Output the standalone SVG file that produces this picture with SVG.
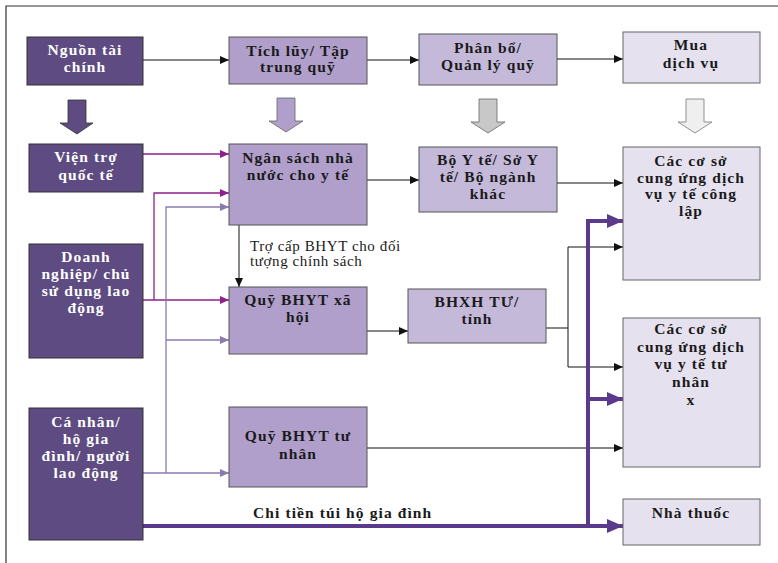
<svg xmlns="http://www.w3.org/2000/svg" width="778" height="563" viewBox="0 0 778 563">
<style>
.dk{fill:#5D4B82;stroke:#333;stroke-width:1}
.md{fill:#B09FCA;stroke:#555;stroke-width:1}
.lt{fill:#C5B9DA;stroke:#555;stroke-width:1}
.xl{fill:#E5E1EF;stroke:#666;stroke-width:1}
text{font-family:"Liberation Serif","Times New Roman",serif;font-weight:bold;font-size:15.5px;letter-spacing:1.1px;text-anchor:middle}
.w{fill:#ffffff}
.b{fill:#1a1a1a}
.n{font-weight:normal;font-size:15px;letter-spacing:0.6px;text-anchor:start}
.k{fill:none;stroke:#111;stroke-width:1}
.m{fill:none;stroke:#8E1F8C;stroke-width:1.3}
.p{fill:none;stroke:#8A7BAF;stroke-width:1.3}
.t{fill:none;stroke:#5B3A8C;stroke-width:4}
</style>
<defs>
<marker id="ak" markerUnits="userSpaceOnUse" markerWidth="10" markerHeight="10" refX="9" refY="5" orient="auto"><path d="M0,1 L9,5 L0,9 Z" fill="#111"/></marker>
<marker id="am" markerUnits="userSpaceOnUse" markerWidth="10" markerHeight="10" refX="9" refY="5" orient="auto"><path d="M0,1 L9,5 L0,9 Z" fill="#8E1F8C"/></marker>
<marker id="ap" markerUnits="userSpaceOnUse" markerWidth="10" markerHeight="10" refX="9" refY="5" orient="auto"><path d="M0,1 L9,5 L0,9 Z" fill="#8A7BAF"/></marker>
<marker id="at" markerUnits="userSpaceOnUse" markerWidth="17" markerHeight="16" refX="16" refY="8" orient="auto"><path d="M0,1 L16,8 L0,15 Z" fill="#5B3A8C"/></marker>
</defs>
<rect width="778" height="563" fill="#ffffff"/>
<path d="M6,563 V6 H778" fill="none" stroke="#333" stroke-width="1.2"/>

<g id="block-arrows">
<path d="M68,100 H86 V123 H93 L77,134 L60,123 H68 Z" fill="#5D4B82" stroke="#333" stroke-width="0.8"/>
<path d="M277,98 H295 V121 H303 L286,132 L269,121 H277 Z" fill="#B09FCA" stroke="#666" stroke-width="0.8"/>
<path d="M479,99 H497 V122 H505 L488,133 L471,122 H479 Z" fill="#C8C8C8" stroke="#666" stroke-width="0.8"/>
<path d="M686,99 H704 V122 H712 L695,133 L678,122 H686 Z" fill="#EFEFEF" stroke="#777" stroke-width="0.8"/>
</g>

<g id="connectors">
<path class="k" d="M143,60 H229" marker-end="url(#ak)"/>
<path class="k" d="M367,60 H419" marker-end="url(#ak)"/>
<path class="k" d="M557,59 H623" marker-end="url(#ak)"/>
<path class="m" d="M143,154 H229" marker-end="url(#am)"/>
<path class="m" d="M143,300 H229" marker-end="url(#am)"/>
<path class="m" d="M154,300 V193 H229" marker-end="url(#am)"/>
<path class="p" d="M143,473 H229" marker-end="url(#ap)"/>
<path class="p" d="M166,473 V207 H229" marker-end="url(#ap)"/>
<path class="p" d="M166,340 H229" marker-end="url(#ap)"/>
<path class="k" d="M367,180 H419" marker-end="url(#ak)"/>
<path class="k" d="M557,183 H623" marker-end="url(#ak)"/>
<path class="k" d="M239,225 V287" marker-end="url(#ak)"/>
<path class="k" d="M367,331 H408" marker-end="url(#ak)"/>
<path class="k" d="M546,328 H568"/>
<path class="k" d="M568,247 V367"/>
<path class="k" d="M568,247 H623" marker-end="url(#ak)"/>
<path class="k" d="M568,367 H623" marker-end="url(#ak)"/>
<path class="k" d="M367,448 H623" marker-end="url(#ak)"/>
<path class="t" d="M143,526 H623" marker-end="url(#at)"/>
<path class="t" d="M588,526 V221 H623" marker-end="url(#at)"/>
<path class="t" d="M588,399 H623" marker-end="url(#at)"/>
<text class="n b" x="250" y="251">Trợ cấp BHYT cho đối</text>
<text class="n b" x="250" y="266">tượng chính sách</text>
<text class="b" x="253" y="518" style="text-anchor:start">Chi tiền túi hộ gia đình</text>
</g>

<g id="nguon"><rect class="dk" x="27" y="37" width="116" height="48"/><text class="w" x="85" y="55">Nguồn tài</text><text class="w" x="85" y="72">chính</text></g>
<g id="tichluy"><rect class="md" x="229" y="37" width="138" height="47"/><text class="b" x="298" y="56">Tích lũy/ Tập</text><text class="b" x="298" y="72">trung quỹ</text></g>
<g id="phanbo"><rect class="lt" x="419" y="34" width="138" height="51"/><text class="b" x="488" y="53">Phân bổ/</text><text class="b" x="488" y="70">Quản lý quỹ</text></g>
<g id="mua"><rect class="xl" x="623" y="32" width="137" height="51"/><text class="b" x="691" y="50">Mua</text><text class="b" x="691" y="68">dịch vụ</text></g>

<g id="vientro"><rect class="dk" x="29" y="144" width="114" height="48"/><text class="w" x="86" y="162">Viện trợ</text><text class="w" x="86" y="180">quốc tế</text></g>
<g id="ngansach"><rect class="md" x="229" y="144" width="138" height="81"/><text class="b" x="298" y="163">Ngân sách nhà</text><text class="b" x="298" y="180">nước cho y tế</text></g>
<g id="boyte"><rect class="lt" x="419" y="147" width="138" height="65"/><text class="b" x="488" y="165">Bộ Y tế/ Sở Y</text><text class="b" x="488" y="182">tế/ Bộ ngành</text><text class="b" x="488" y="199">khác</text></g>
<g id="conglap"><rect class="xl" x="623" y="147" width="137" height="133"/><text class="b" x="691" y="166">Các cơ sở</text><text class="b" x="691" y="183">cung ứng dịch</text><text class="b" x="691" y="199">vụ y tế công</text><text class="b" x="691" y="216">lập</text></g>

<g id="doanhnghiep"><rect class="dk" x="29" y="244" width="114" height="114"/><text class="w" x="86" y="262">Doanh</text><text class="w" x="86" y="279">nghiệp/ chủ</text><text class="w" x="86" y="296">sử dụng lao</text><text class="w" x="86" y="313">động</text></g>
<g id="quyxahoi"><rect class="md" x="229" y="287" width="138" height="67"/><text class="b" x="298" y="305">Quỹ BHYT xã</text><text class="b" x="298" y="322">hội</text></g>
<g id="bhxh"><rect class="lt" x="408" y="289" width="138" height="54"/><text class="b" x="477" y="307">BHXH TƯ/</text><text class="b" x="477" y="324">tỉnh</text></g>
<g id="tunhan"><rect class="xl" x="623" y="318" width="137" height="149"/><text class="b" x="691" y="334">Các cơ sở</text><text class="b" x="691" y="352">cung ứng dịch</text><text class="b" x="691" y="369">vụ y tế tư</text><text class="b" x="691" y="387">nhân</text><text class="b" x="691" y="405">x</text></g>

<g id="canhan"><rect class="dk" x="29" y="408" width="114" height="132"/><text class="w" x="86" y="427">Cá nhân/</text><text class="w" x="86" y="444">hộ gia</text><text class="w" x="86" y="461">đình/ người</text><text class="w" x="86" y="478">lao động</text></g>
<g id="quytunhan"><rect class="md" x="229" y="407" width="138" height="80"/><text class="b" x="298" y="441">Quỹ BHYT tư</text><text class="b" x="298" y="459">nhân</text></g>
<g id="nhathuoc"><rect class="xl" x="623" y="499" width="137" height="46"/><text class="b" x="691" y="518">Nhà thuốc</text></g>
</svg>
